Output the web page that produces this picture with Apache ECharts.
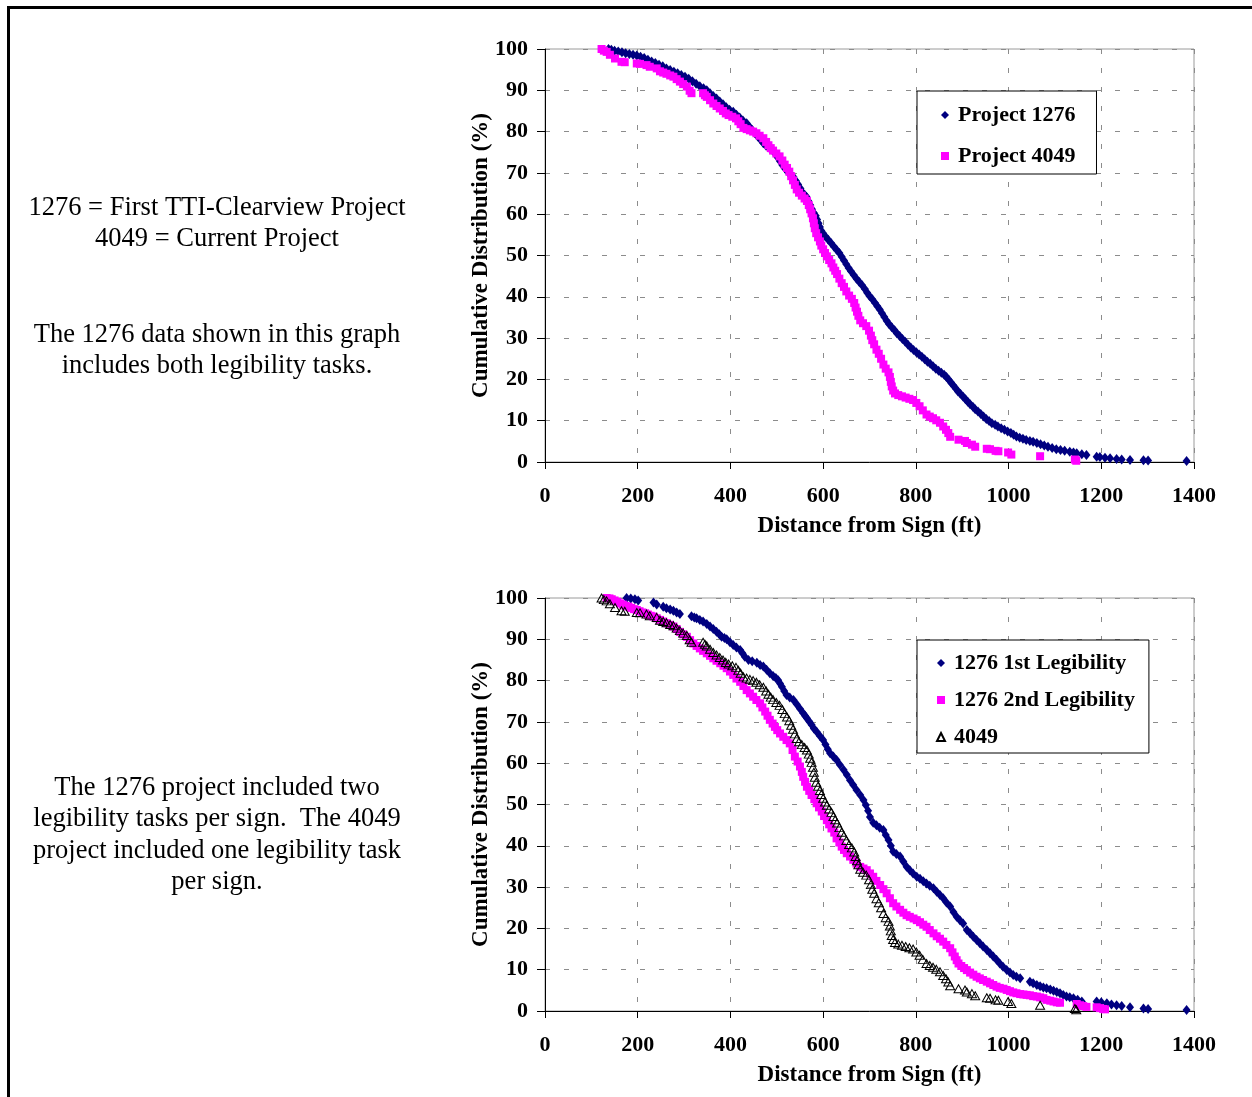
<!DOCTYPE html>
<html>
<head>
<meta charset="utf-8">
<script src="https://cdn.jsdelivr.net/npm/echarts@6/dist/echarts.min.js"></script>
<style>
  html, body { margin: 0; padding: 0; background: #fff; }
  #main { width: 1252px; height: 1097px; }
</style>
</head>
<body>
<div id="main"></div>
<script>
// x ticks and y ticks
var distTicks = [0, 200, 400, 600, 800, 1000, 1200, 1400];
var pctTicks = [0, 10, 20, 30, 40, 50, 60, 70, 80, 90, 100];

// [distance (ft), cumulative %]
var proj1276 = [
  [137,100],[143,99.8],[150,99.6],[158,99.4],[166,99.2],[174,99.0],[182,98.8],[190,98.6],[198,98.4],[206,98.1],
  [214,97.8],[222,97.4],[230,97.0],[238,96.6],[246,96.2],[254,95.8],[262,95.3],[270,94.9],[278,94.5],[286,94.1],
  [294,93.7],[302,93.3],[310,92.8],[318,92.2],[326,91.6],[334,91.0],[342,90.5],[349,90.0],[356,89.3],[363,88.6],
  [370,88.0],[377,87.3],[384,86.6],[391,85.9],[398,85.3],[406,84.8],[413,84.1],[420,83.4],[427,82.7],[435,82.0],
  [441,81.2],[447,80.4],[453,79.6],[459,78.8],[465,78.0],[471,77.2],[477,76.6],[484,76.0],[492,75.5],[497,74.6],
  [502,73.7],[507,72.8],[512,71.9],[518,71.0],[524,70.2],[530,69.5],[536,69.0],[541,68.1],[546,67.2],[551,66.2],
  [555,65.3],[560,64.7],[564,64.2],[568,63.2],[572,62.2],[576,61.2],[580,60.3],[584,59.6],[587,58.7],[590,57.8],
  [593,56.9],[596,56.0],[600,55.3],[605,54.6],[611,53.8],[617,53.0],[623,52.2],[629,51.4],[635,50.6],[640,49.7],
  [645,48.8],[650,47.9],[655,47.0],[660,46.2],[666,45.3],[672,44.4],[678,43.6],[684,42.8],[690,41.9],[695,41.0],
  [700,40.2],[706,39.4],[712,38.5],[717,37.7],[722,36.9],[727,36.0],[732,35.1],[737,34.2],[742,33.4],[748,32.6],
  [754,31.9],[759,31.2],[765,30.5],[771,29.8],[777,29.1],[783,28.4],[789,27.7],[795,27.1],[801,26.6],[807,26.0],
  [813,25.5],[819,24.9],[825,24.3],[831,23.8],[837,23.2],[843,22.6],[849,22.1],[855,21.6],[861,21.1],[866,20.6],
  [871,19.9],[876,19.2],[881,18.5],[886,17.8],[891,17.1],[896,16.5],[902,15.8],[907,15.2],[912,14.6],[917,14.0],
  [923,13.4],[928,12.8],[934,12.2],[940,11.6],[946,11.0],[952,10.4],[958,9.9],[964,9.4],[971,9.0],[977,8.6],
  [984,8.2],[991,7.8],[998,7.4],[1005,7.0],[1011,6.6],[1017,6.2],[1024,5.9],[1031,5.6],[1038,5.3],[1046,5.1],
  [1053,4.9],[1061,4.6],[1069,4.3],[1077,4.0],[1085,3.7],[1094,3.4],[1103,3.1],[1112,2.9],[1121,2.7],[1132,2.5],
  [1140,2.3],[1147,2.1],[1158,1.9],[1168,1.7],[1190,1.3],[1197,1.2],[1208,1.0],[1219,0.9],[1233,0.7],[1244,0.6],
  [1262,0.5],[1291,0.4],[1301,0.35],[1384,0.25]
];

var proj4049 = [
  [122,100],[127,99.6],[133,99.3],[140,98.6],[151,97.7],[165,96.9],[172,96.8],[198,96.5],[205,96.4],[219,96.1],
  [226,95.7],[241,95.3],[248,94.6],[255,94.3],[262,94.0],[270,93.6],[277,93.3],[284,92.7],[291,92.1],[298,91.5],
  [306,90.9],[312,89.9],[316,89.3],[341,89.3],[345,88.8],[349,88.4],[356,87.6],[363,86.8],[370,86.2],[377,85.6],
  [384,85.0],[390,84.4],[396,84.0],[404,83.6],[412,83.2],[417,82.5],[422,81.8],[428,80.9],[435,80.6],[442,80.3],
  [449,80.0],[456,79.6],[463,79.0],[471,78.4],[477,77.5],[482,76.7],[487,76.0],[492,75.4],[499,74.7],[506,74.0],
  [512,73.0],[517,72.0],[522,71.2],[527,70.3],[531,69.2],[535,68.2],[539,67.1],[543,66.0],[548,65.2],[554,64.5],
  [560,63.8],[565,63.2],[569,62.2],[572,61.2],[575,60.2],[578,59.0],[580,57.8],[582,56.6],[585,55.4],[589,54.4],
  [593,53.4],[596,52.4],[600,51.5],[604,50.6],[608,49.8],[613,48.9],[618,48.1],[622,47.1],[626,46.3],[630,45.5],
  [635,44.4],[640,43.3],[645,42.4],[650,41.3],[656,40.3],[662,39.5],[667,38.5],[670,37.4],[673,36.4],[676,35.4],
  [680,34.3],[686,33.6],[693,32.9],[699,31.8],[703,30.6],[706,29.5],[710,28.5],[715,27.2],[720,26.2],[725,25.0],
  [730,23.6],[735,22.6],[741,21.7],[744,20.6],[746,19.4],[748,18.3],[751,17.3],[755,16.6],[762,16.2],[770,15.9],
  [778,15.6],[786,15.3],[794,15.0],[801,14.3],[808,13.5],[815,12.5],[823,11.5],[830,11.0],[837,10.6],[844,10.1],
  [852,9.5],[859,8.6],[865,7.8],[870,7.0],[874,6.1],[892,5.4],[906,5.1],[910,4.6],[921,4.2],[928,3.7],
  [953,3.2],[960,3.1],[972,2.7],[978,2.6],[999,2.3],[1006,1.8],[1068,1.4],[1143,0.6],[1146,0.3]
];

var leg1st = [
  [176,100],[185,99.9],[194,99.7],[201,99.4],[234,98.9],[241,98.4],[255,97.9],[262,97.5],[270,97.2],[277,96.9],
  [284,96.5],[291,96.1],[316,95.6],[322,95.3],[327,95.1],[334,94.7],[341,94.3],[349,93.7],[356,93.1],[363,92.5],
  [370,91.8],[376,91.2],[381,90.6],[387,90.3],[392,90.0],[399,89.3],[406,88.6],[413,88.0],[421,87.4],[426,86.6],
  [431,85.8],[439,85.0],[447,84.7],[457,84.3],[464,83.8],[471,83.4],[478,82.6],[485,81.8],[492,81.1],[498,80.6],
  [503,80.1],[507,79.3],[511,78.5],[516,77.5],[521,76.5],[528,75.9],[536,75.3],[543,74.3],[550,73.2],[557,72.1],
  [561,71.5],[565,70.9],[570,70.1],[575,69.3],[580,68.4],[586,67.6],[593,66.6],[600,65.6],[605,64.5],[610,63.4],
  [615,62.4],[622,61.6],[629,60.8],[636,59.6],[644,58.4],[651,57.2],[658,55.9],[665,54.7],[672,53.5],[680,52.3],
  [687,51.1],[692,49.9],[697,48.5],[701,47.0],[708,45.6],[715,45.0],[722,44.4],[730,43.8],[735,42.6],[741,41.4],
  [746,40.0],[751,38.6],[758,38.0],[766,37.4],[773,36.2],[780,34.9],[787,34.1],[794,33.3],[802,32.5],[809,32.0],
  [816,31.4],[823,30.9],[830,30.3],[838,29.7],[845,28.9],[852,28.1],[859,27.3],[866,26.3],[874,25.3],[881,24.0],
  [888,22.8],[895,22.0],[902,21.2],[910,19.6],[917,18.8],[924,18.0],[931,17.2],[938,16.4],[945,15.6],[953,14.8],
  [960,14.0],[967,13.2],[974,12.4],[981,11.5],[988,10.7],[996,9.9],[1003,9.3],[1010,8.7],[1017,8.3],[1025,7.9],
  [1046,7.1],[1053,6.7],[1061,6.3],[1068,6.0],[1075,5.7],[1082,5.5],[1090,5.2],[1097,4.9],[1104,4.6],[1111,4.3],
  [1118,3.9],[1125,3.5],[1132,3.3],[1140,3.1],[1149,2.7],[1158,2.3],[1190,2.3],[1200,2.1],[1212,1.9],[1222,1.6],
  [1233,1.4],[1244,1.2],[1262,0.9],[1291,0.6],[1301,0.5],[1384,0.25]
];

var leg2nd = [
  [133,100],[139,99.9],[144,99.7],[150,99.4],[156,99.1],[162,98.7],[168,98.4],[174,98.1],[180,97.9],[186,97.6],
  [192,97.3],[198,97.1],[204,96.8],[210,96.5],[216,96.3],[222,96.0],[228,95.7],[234,95.5],[241,95.1],[248,94.7],
  [255,94.3],[262,93.9],[269,93.5],[277,93.1],[284,92.5],[291,91.8],[298,91.2],[306,90.6],[313,89.8],[320,89.0],
  [327,88.4],[334,87.8],[341,87.2],[349,86.6],[356,86.0],[363,85.4],[370,84.8],[378,84.2],[385,83.6],[392,83.0],
  [399,82.2],[406,81.4],[413,80.5],[421,79.7],[428,78.7],[435,77.7],[442,76.9],[449,76.1],[456,75.3],[464,74.5],
  [469,73.5],[475,72.5],[480,71.5],[485,70.5],[491,69.6],[496,68.8],[501,68.0],[507,67.2],[514,66.4],[521,65.6],
  [528,64.8],[534,63.2],[539,61.6],[545,60.4],[550,59.2],[554,57.9],[557,56.7],[561,55.5],[565,54.3],[570,53.3],
  [575,52.3],[581,51.3],[586,50.3],[591,49.3],[597,48.3],[602,47.2],[608,46.2],[613,45.2],[618,44.2],[624,43.2],
  [629,41.8],[635,40.8],[640,39.8],[645,39.0],[651,38.2],[658,37.4],[665,36.6],[672,35.7],[680,34.9],[687,34.5],
  [694,34.1],[701,33.3],[708,32.5],[715,31.5],[723,30.5],[730,29.5],[737,28.5],[744,27.3],[751,26.1],[758,25.3],
  [766,24.5],[773,23.8],[780,23.2],[787,22.8],[795,22.4],[802,22.0],[809,21.5],[816,20.9],[823,20.4],[830,19.6],
  [838,18.8],[845,18.1],[852,17.5],[859,16.8],[866,16.0],[874,15.2],[879,14.2],[884,13.2],[888,12.3],[892,11.5],
  [898,10.9],[904,10.4],[910,9.9],[917,9.3],[924,8.8],[931,8.3],[938,7.9],[945,7.5],[953,7.1],[960,6.7],
  [967,6.3],[974,5.9],[981,5.6],[989,5.4],[996,5.1],[1003,4.8],[1010,4.5],[1017,4.3],[1025,4.1],[1032,4.0],
  [1039,3.9],[1046,3.8],[1053,3.6],[1061,3.5],[1068,3.3],[1075,3.1],[1082,2.7],[1090,2.5],[1097,2.3],[1104,2.1],
  [1111,2.0],[1147,1.7],[1154,1.4],[1161,1.2],[1168,1.0],[1190,0.9],[1197,0.7],[1204,0.5],[1208,0.4]
];

var noteTop = ['1276 = First TTI-Clearview Project', '4049 = Current Project'];
var noteMid = ['The 1276 data shown in this graph', 'includes both legibility tasks.'];
var noteBottom = ['The 1276 project included two', 'legibility tasks per sign.  The 4049',
                  'project included one legibility task', 'per sign.'];

var serif = '"Liberation Serif", "Times New Roman", serif';
var navy = '#000080';
var magenta = '#ff00ff';

var chart = echarts.init(document.getElementById('main'));

function plain(v) { return String(v); }

function makeX(gi) {
    return {
        type: 'value', gridIndex: gi, min: distTicks[0], max: distTicks[distTicks.length - 1], interval: 200,
        name: 'Distance from Sign (ft)', nameLocation: 'middle', nameGap: 53, nameMoveOverlap: false,
        nameTextStyle: {fontFamily: serif, fontWeight: 'bold', fontSize: 23, color: '#000'},
        axisLine: {show: true, onZero: false, lineStyle: {color: '#000', width: 1}},
        axisTick: {show: true, inside: false, length: 7, lineStyle: {color: '#000'}},
        axisLabel: {margin: 23, fontFamily: serif, fontWeight: 'bold', fontSize: 22, color: '#000', formatter: plain},
        splitLine: {show: true, lineStyle: {color: '#8c8c8c', type: [5, 14], width: 1}}
    };
}

function makeY(gi) {
    return {
        type: 'value', gridIndex: gi, min: pctTicks[0], max: pctTicks[pctTicks.length - 1], interval: 10,
        name: 'Cumulative Distribution (%)', nameLocation: 'middle', nameGap: 52, nameMoveOverlap: false,
        nameTextStyle: {fontFamily: serif, fontWeight: 'bold', fontSize: 23, color: '#000'},
        axisLine: {show: true, onZero: false, lineStyle: {color: '#000', width: 1}},
        axisTick: {show: true, inside: false, length: 8, lineStyle: {color: '#000'}},
        axisLabel: {margin: 17, fontFamily: serif, fontWeight: 'bold', fontSize: 22, color: '#000', formatter: plain},
        splitLine: {show: true, lineStyle: {color: '#8c8c8c', type: [5, 14], width: 1}}
    };
}

function noteText(lines, y0) {
    return lines.map(function (t, i) {
        return {
            type: 'text', x: 217, y: y0 + i * 31.5,
            style: {text: t, align: 'center', verticalAlign: 'middle',
                    font: '26.5px ' + serif, fill: '#000'}
        };
    });
}

var legendText = {fontFamily: serif, fontWeight: 'bold', fontSize: 22, color: '#000', padding: [0, 0, 0, 4]};

var option = {
    animation: false,
    backgroundColor: '#fff',
    grid: [
        {left: 545, top: 49, width: 649, height: 413, show: true, borderColor: '#9a9a9a', borderWidth: 1, backgroundColor: '#fff'},
        {left: 545, top: 598, width: 649, height: 413, show: true, borderColor: '#9a9a9a', borderWidth: 1, backgroundColor: '#fff'}
    ],
    xAxis: [makeX(0), makeX(1)],
    yAxis: [makeY(0), makeY(1)],
    legend: [
        {
            left: 917, top: 91, orient: 'vertical', itemGap: 19, itemWidth: 8, itemHeight: 8,
            padding: [13, 21, 7, 24], borderColor: '#000', borderWidth: 1, backgroundColor: '#fff',
            textStyle: legendText, selectedMode: false,
            data: ['Project 1276', 'Project 4049']
        },
        {
            left: 917, top: 640, orient: 'vertical', itemGap: 15, itemWidth: 8, itemHeight: 8,
            padding: [12, 14, 5, 19], borderColor: '#000', borderWidth: 1, backgroundColor: '#fff',
            textStyle: legendText, selectedMode: false,
            data: ['1276 1st Legibility', '1276 2nd Legibility', '4049']
        }
    ],
    graphic: [
        {type: 'rect', shape: {x: 7, y: 6, width: 1245, height: 3}, style: {fill: '#000'}},
        {type: 'rect', shape: {x: 7, y: 6, width: 3, height: 1091}, style: {fill: '#000'}}
    ].concat(noteText(noteTop, 208), noteText(noteMid, 335), noteText(noteBottom, 788)),
    series: [
        {
            name: 'Project 1276', type: 'scatter', xAxisIndex: 0, yAxisIndex: 0,
            symbol: 'diamond', symbolSize: [8, 10], itemStyle: {color: navy, opacity: 1},
            data: proj1276
        },
        {
            name: 'Project 4049', type: 'scatter', xAxisIndex: 0, yAxisIndex: 0,
            symbol: 'rect', symbolSize: 8, itemStyle: {color: magenta, opacity: 1},
            data: proj4049
        },
        {
            name: '1276 1st Legibility', type: 'scatter', xAxisIndex: 1, yAxisIndex: 1,
            symbol: 'diamond', symbolSize: [8, 10], itemStyle: {color: navy, opacity: 1},
            data: leg1st
        },
        {
            name: '1276 2nd Legibility', type: 'scatter', xAxisIndex: 1, yAxisIndex: 1,
            symbol: 'rect', symbolSize: 8, itemStyle: {color: magenta, opacity: 1},
            data: leg2nd
        },
        {
            name: '4049', type: 'scatter', xAxisIndex: 1, yAxisIndex: 1,
            symbol: 'triangle', symbolSize: [9, 8],
            itemStyle: {color: 'rgba(255,255,255,0)', borderColor: '#000', borderWidth: 1, opacity: 1},
            data: proj4049
        }
    ]
};

chart.setOption(option);
</script>
</body>
</html>
